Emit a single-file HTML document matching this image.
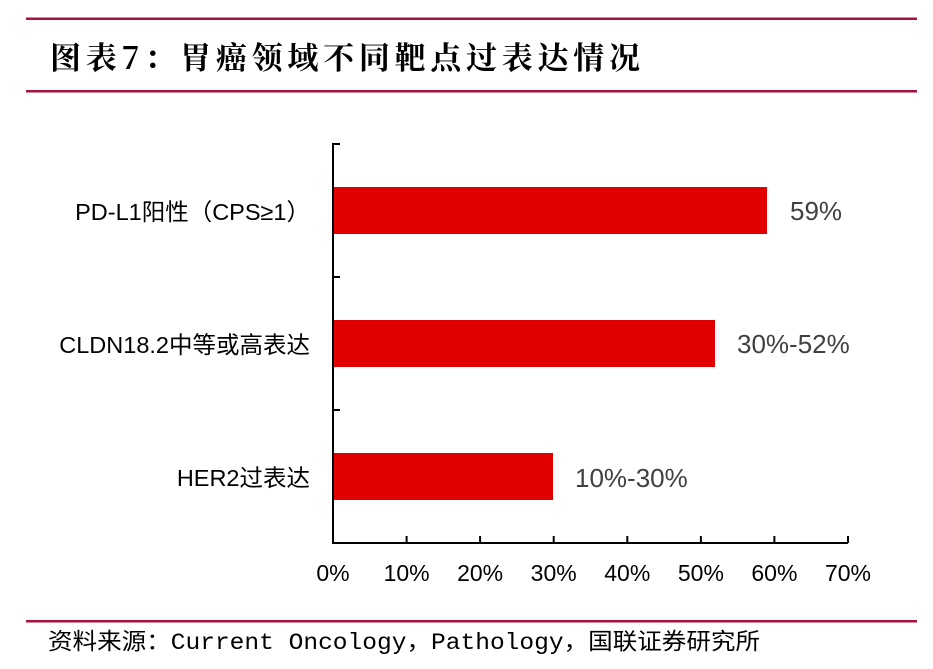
<!DOCTYPE html>
<html><head><meta charset="utf-8"><style>
html,body{margin:0;padding:0;background:#fff;width:933px;height:669px;overflow:hidden}
</style></head><body>
<svg width="933" height="669" xmlns="http://www.w3.org/2000/svg">
<rect x="26" y="17.5" width="891" height="2.5" fill="#A5123F"/>
<rect x="26" y="90" width="891" height="2.5" fill="#A5123F"/>
<rect x="26" y="620" width="891" height="2.5" fill="#A5123F"/>
<text x="50" y="69" font-family="'Noto Serif CJK SC','Liberation Serif',serif" font-weight="bold" font-size="31" fill="#000" textLength="590" lengthAdjust="spacing">图表7：胃癌领域不同靶点过表达情况</text>
<rect x="333" y="187" width="434" height="47" fill="#E00000"/>
<rect x="333" y="320" width="382" height="47" fill="#E00000"/>
<rect x="333" y="453" width="220" height="47" fill="#E00000"/>
<g stroke="#000" stroke-width="2" fill="none">
<line x1="333" y1="143" x2="333" y2="544"/>
<line x1="332" y1="543" x2="848" y2="543"/>
<line x1="333" y1="144" x2="340" y2="144"/>
<line x1="333" y1="277" x2="340" y2="277"/>
<line x1="333" y1="410" x2="340" y2="410"/>
<line x1="406.6" y1="536" x2="406.6" y2="543"/>
<line x1="480.1" y1="536" x2="480.1" y2="543"/>
<line x1="553.7" y1="536" x2="553.7" y2="543"/>
<line x1="627.3" y1="536" x2="627.3" y2="543"/>
<line x1="700.9" y1="536" x2="700.9" y2="543"/>
<line x1="774.4" y1="536" x2="774.4" y2="543"/>
<line x1="848" y1="536" x2="848" y2="543"/>
</g>
<g font-family="'Liberation Sans','Noto Sans CJK SC',sans-serif" font-size="23" fill="#000" text-anchor="middle">
<text x="333" y="581">0%</text>
<text x="406.6" y="581">10%</text>
<text x="480.1" y="581">20%</text>
<text x="553.7" y="581">30%</text>
<text x="627.3" y="581">40%</text>
<text x="700.9" y="581">50%</text>
<text x="774.4" y="581">60%</text>
<text x="848" y="581">70%</text>
</g>
<g font-family="'Liberation Sans','Noto Sans CJK SC',sans-serif" font-size="23.5" fill="#000" text-anchor="end">
<text x="310" y="220">PD-L1阳性（CPS≥1）</text>
<text x="310" y="353">CLDN18.2中等或高表达</text>
<text x="310" y="486">HER2过表达</text>
</g>
<g font-family="'Liberation Sans','Noto Sans CJK SC',sans-serif" font-size="26" fill="#404040">
<text x="790" y="220">59%</text>
<text x="737" y="353">30%-52%</text>
<text x="575" y="487">10%-30%</text>
</g>
<text x="48" y="649" font-family="'Liberation Mono','Noto Sans CJK SC',monospace" font-size="23" fill="#000" textLength="712" lengthAdjust="spacingAndGlyphs">资料来源：Current Oncology，Pathology，国联证券研究所</text>
</svg>
</body></html>
